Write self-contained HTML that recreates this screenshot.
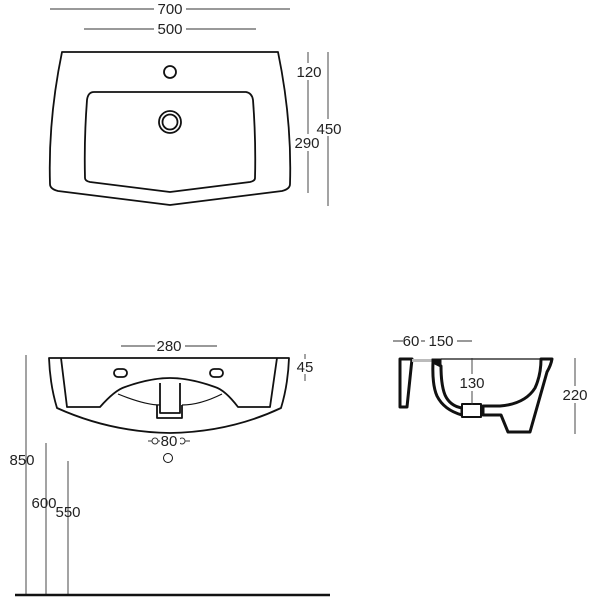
<!DOCTYPE html>
<html><head><style>body{margin:0;background:#fff}svg{display:block}text{font-family:"Liberation Sans",sans-serif;font-size:15px;fill:#222}</style></head><body>
<svg width="600" height="600" viewBox="0 0 600 600" xmlns="http://www.w3.org/2000/svg">
<g stroke="#111" fill="none" stroke-width="1.8" stroke-linejoin="round">
<!-- top view -->
<path d="M62,52 L278,52 Q292,120 290,184 Q290,189 282,191 L170,205 L58,191 Q50,189 50,184 Q48,120 62,52Z"/>
<path d="M94,92 L246,92 Q252,93 253,100 Q256,140 255,178 Q255,181 250,182 L170,192 L90,182 Q85,181 85,178 Q84,140 87,100 Q88,92 94,92Z"/>
<circle cx="170" cy="72" r="6"/>
<circle cx="170" cy="122" r="11"/><circle cx="170" cy="122" r="7.5"/>
<!-- front view -->
<path d="M49,358 L289,358 Q288,385 281,408 Q230,432 170,433 Q110,432 57,408 Q50,385 49,358Z"/>
<path d="M61,358 L67,407 L100,407 Q115,390 125,387 Q150,378 170,378 Q190,378 215,387 Q225,390 238,407 L270,407 L277,358"/>
<path d="M118,394 Q145,405 160,405 M182,405 Q200,405 222,394" stroke-width="1.2"/>
<path d="M160,383 L160,413 L180,413 L180,383 M157,405 L157,418 L182,418 L182,405"/>
<rect x="114" y="369" width="13" height="8" rx="4"/>
<rect x="210" y="369" width="13" height="8" rx="4"/>
<circle cx="168" cy="458" r="4.5" stroke-width="1"/>
</g>
<!-- side view -->
<g stroke="#111" stroke-linejoin="round">
<path d="M400,359 L412,359 L407,407 L400,407Z" fill="#fff" stroke-width="3"/>
<rect x="412" y="359" width="21" height="3" fill="#bbb" stroke="none"/>
<path d="M432,359 L441,359 L441,366 L432,366Z" fill="#111"/>
<path d="M433,362 Q432,385 437,396 Q444,410 462,415 L462,408 Q450,406 445,395 Q441,385 441,366Z" fill="#fff" stroke-width="3"/>
<line x1="441" y1="359" x2="541" y2="359" stroke-width="1.2"/>
<path d="M462,404 L481,404 L481,417 L462,417Z" fill="#fff" stroke-width="2"/>
<path d="M541,359 L552,359 Q551,365 547,372 L530,432 L508,432 L501,415 L483,415 L483,406 L500,406 Q525,404 535,388 Q541,375 541,359Z" fill="#fff" stroke-width="3"/>
</g>
<g stroke="#333" stroke-width="0.9">
<line x1="50" y1="9" x2="290" y2="9"/><line x1="84" y1="29" x2="256" y2="29"/>
<line x1="308" y1="52" x2="308" y2="193"/><line x1="328" y1="52" x2="328" y2="206"/>
<line x1="121" y1="346" x2="217" y2="346"/><line x1="305" y1="354" x2="305" y2="381"/>
<line x1="26" y1="355" x2="26" y2="595"/><line x1="46" y1="443" x2="46" y2="595"/><line x1="68" y1="461" x2="68" y2="595"/>
<line x1="148" y1="441" x2="190" y2="441"/>
<line x1="393" y1="341" x2="472" y2="341"/><line x1="472" y1="358" x2="472" y2="405"/><line x1="575" y1="358" x2="575" y2="434"/>
</g>
<line x1="15" y1="595" x2="330" y2="595" stroke="#111" stroke-width="2.5"/>
<g fill="#fff" stroke="#333" stroke-width="1"><circle cx="155" cy="441" r="3"/><circle cx="182" cy="441" r="3"/></g>
<g fill="#fff" stroke="none">
<rect x="154" y="1" width="32" height="16"/><rect x="154" y="21" width="32" height="16"/>
<rect x="295" y="63" width="28" height="17"/><rect x="293" y="134" width="30" height="17"/><rect x="313" y="119" width="32" height="17"/>
<rect x="155" y="338" width="30" height="16"/><rect x="297" y="359" width="18" height="15"/>
<rect x="160" y="434" width="20" height="15"/>
<rect x="403" y="333" width="18" height="15"/><rect x="425" y="333" width="32" height="15"/>
<rect x="457" y="374" width="32" height="17"/><rect x="559" y="386" width="32" height="17"/>
</g>
<text x="170" y="14" text-anchor="middle">700</text>
<text x="170" y="34" text-anchor="middle">500</text>
<text x="309" y="77" text-anchor="middle">120</text>
<text x="307" y="148" text-anchor="middle">290</text>
<text x="329" y="134" text-anchor="middle">450</text>
<text x="169" y="351" text-anchor="middle">280</text>
<text x="305" y="372" text-anchor="middle">45</text>
<text x="169" y="446" text-anchor="middle">80</text>
<text x="22" y="465" text-anchor="middle">850</text>
<text x="44" y="508" text-anchor="middle">600</text>
<text x="68" y="517" text-anchor="middle">550</text>
<text x="411" y="346" text-anchor="middle">60</text>
<text x="441" y="346" text-anchor="middle">150</text>
<text x="472" y="388" text-anchor="middle">130</text>
<text x="575" y="400" text-anchor="middle">220</text>
</svg>
</body></html>
